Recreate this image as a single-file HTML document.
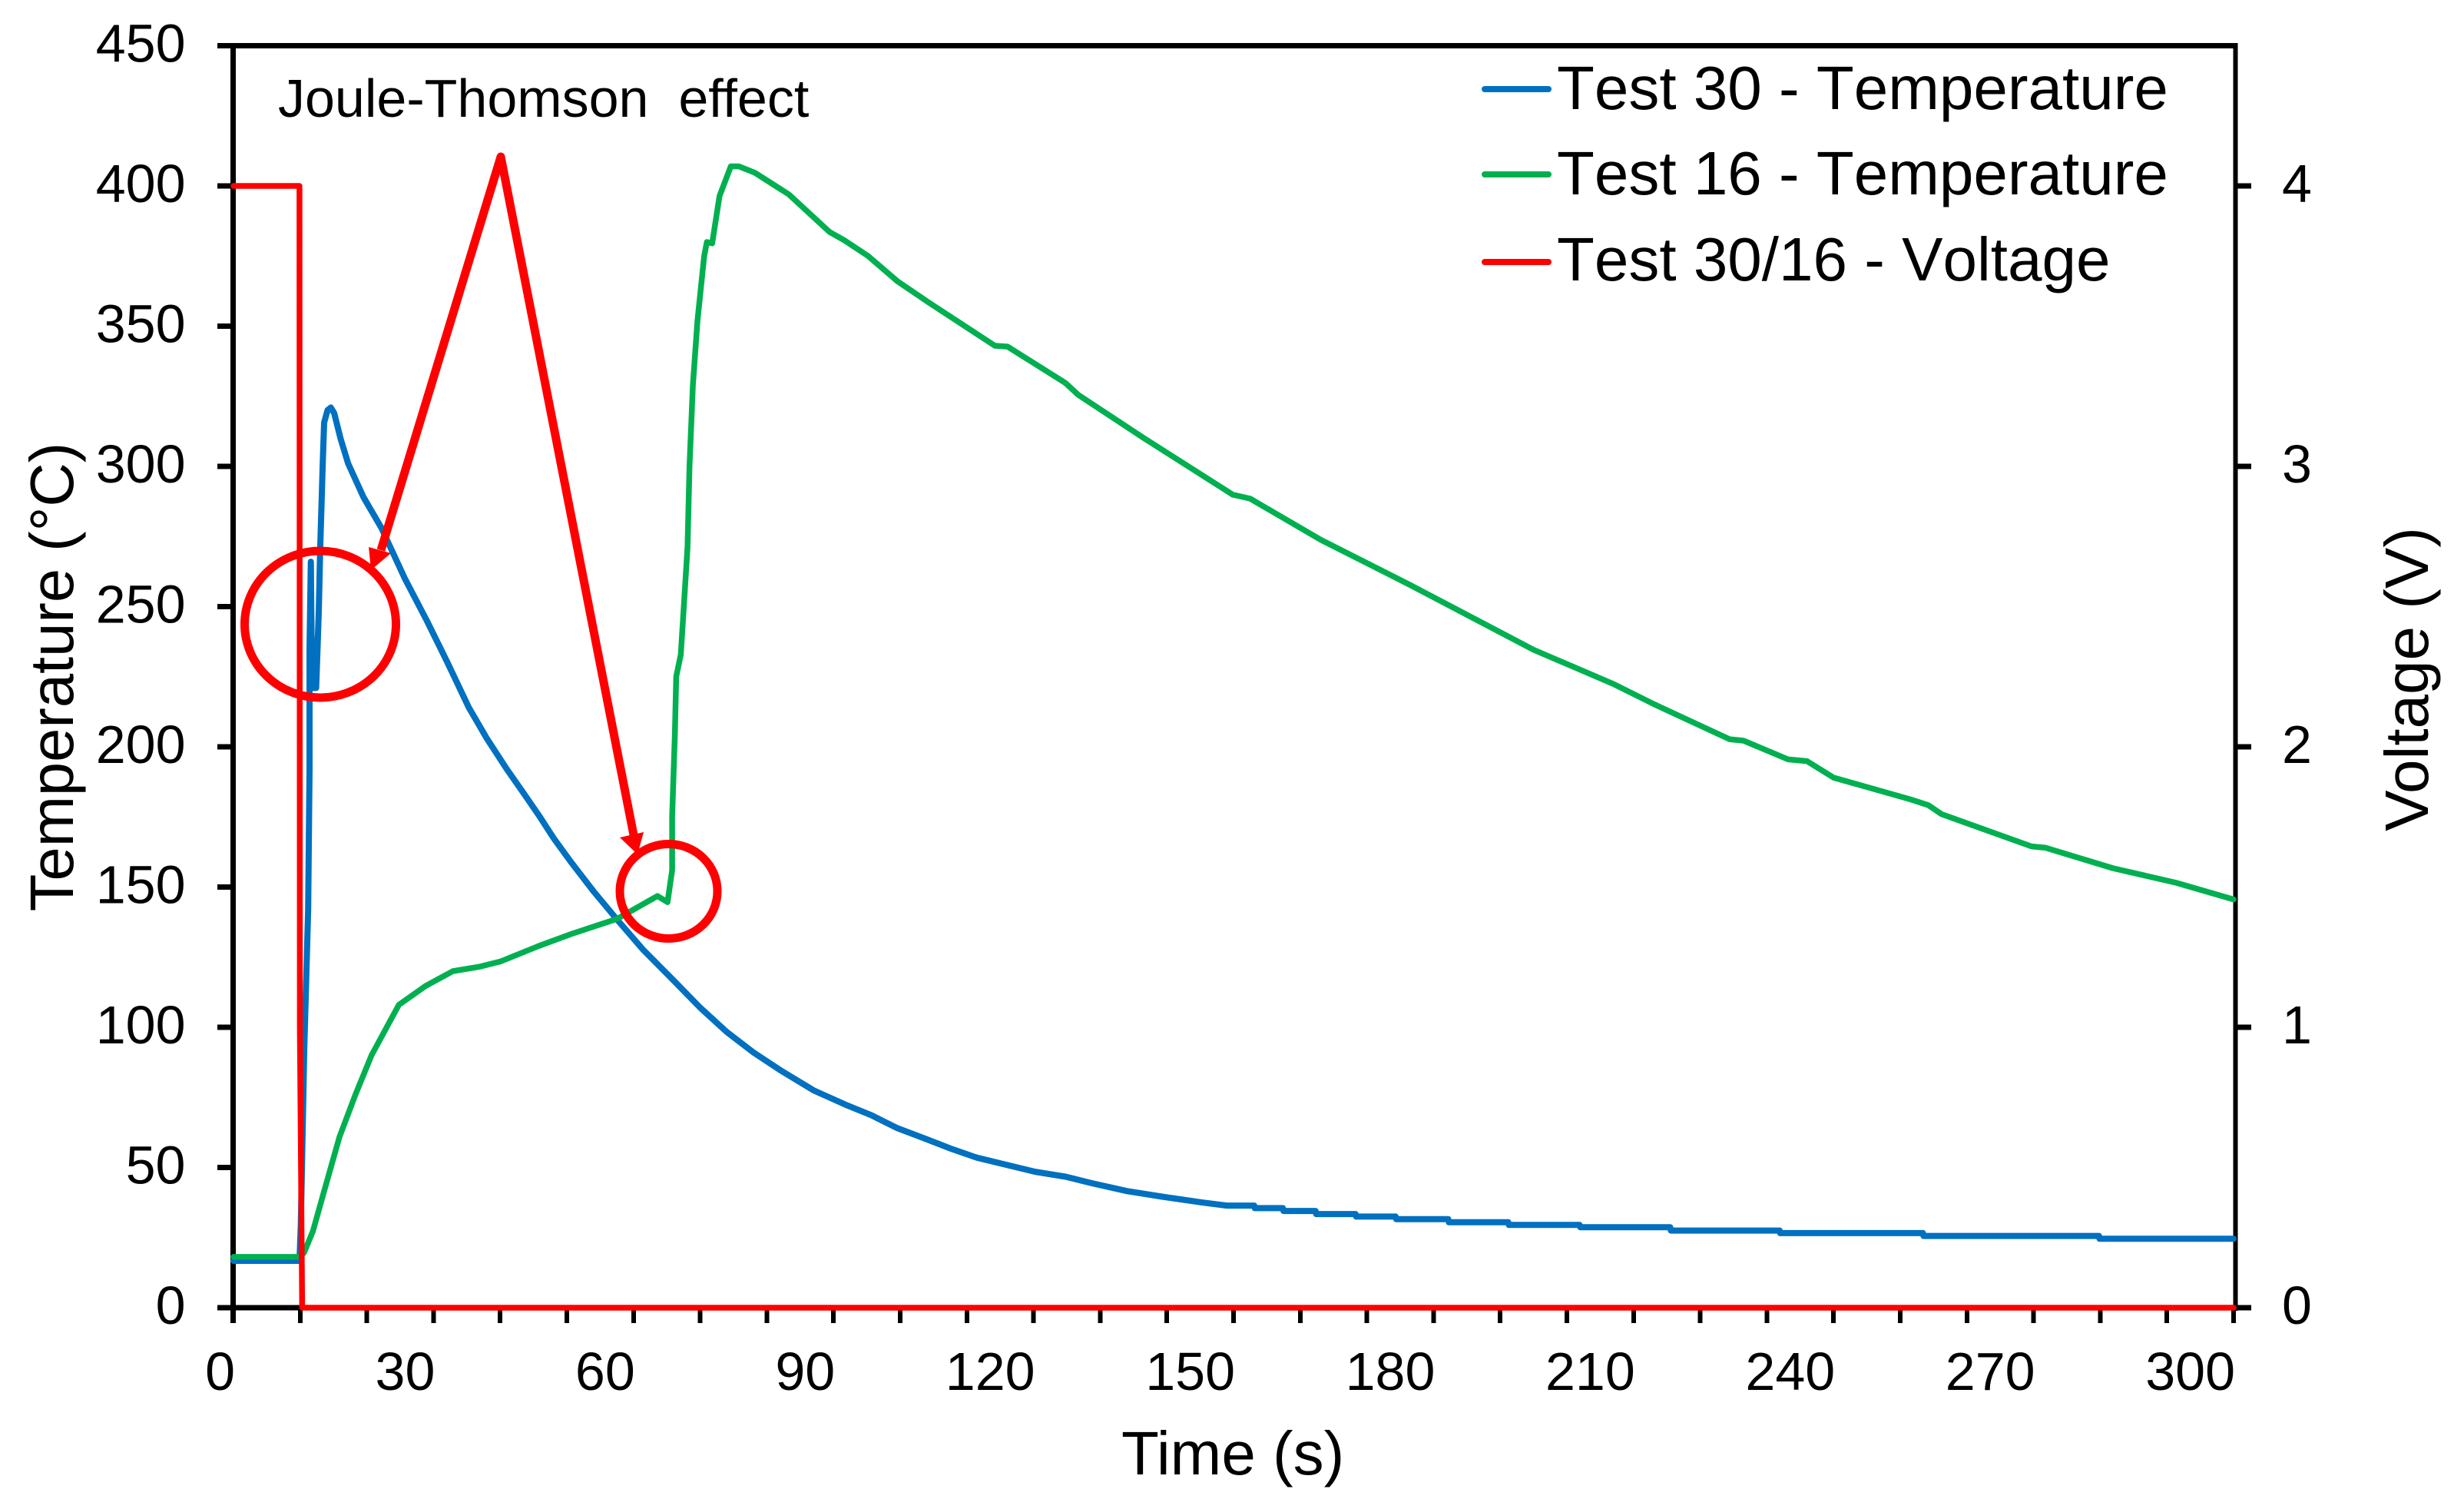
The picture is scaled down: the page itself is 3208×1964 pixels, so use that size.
<!DOCTYPE html>
<html lang="en">
<head>
<meta charset="utf-8">
<title>Temperature and voltage vs time</title>
<style>
html,body{margin:0;padding:0;background:#fff;}
svg{display:block;}
text{font-family:"Liberation Sans",Arial,sans-serif;fill:#000;}
.nokern{font-kerning:none;}
</style>
</head>
<body>
<svg id="chart" xmlns="http://www.w3.org/2000/svg" width="3208" height="1964" viewBox="0 0 3208 1964">
  <rect x="0" y="0" width="3208" height="1964" fill="#ffffff"/>
  <g id="axes"></g>
  <g id="series"></g>
  <text transform="translate(95 881) rotate(-90)" text-anchor="middle" font-size="79.5">Temperature (°C)</text>
  <text transform="translate(3161 884) rotate(-90)" text-anchor="middle" font-size="80">Voltage (V)</text>
  <text x="1460" y="1919" font-size="80">Time (s)</text>
  <text x="362" y="152" font-size="70" style="white-space:pre" xml:space="preserve">Joule-Thomson  effect</text>
  <g>
    <g>
      <line x1="1933" y1="116" x2="2016" y2="116" stroke="#0070C0" stroke-width="8" stroke-linecap="round"/>
      <text class="nokern" x="2027" y="142" font-size="80">Test 30 - Temperature</text>
    </g>
    <g>
      <line x1="1933" y1="227" x2="2016" y2="227" stroke="#00B050" stroke-width="8" stroke-linecap="round"/>
      <text class="nokern" x="2027" y="253" font-size="80">Test 16 - Temperature</text>
    </g>
    <g>
      <line x1="1933" y1="341" x2="2016" y2="341" stroke="#FF0000" stroke-width="8" stroke-linecap="round"/>
      <text class="nokern" x="2027" y="365" font-size="80">Test 30/16 - Voltage</text>
    </g>
  </g>
  <g fill="none" stroke="#FF0000">
    <ellipse cx="417" cy="812.5" rx="98.5" ry="95.5" stroke-width="11"/>
    <ellipse cx="870.5" cy="1160" rx="63.5" ry="61.5" stroke-width="11"/>
    <polyline points="496,716 652,204 826,1092" stroke-width="11" stroke-linejoin="round"/>
    <polygon points="480,712 509,720 483,742" fill="#FF0000" stroke="none"/>
    <polygon points="807,1090 838,1083 830,1112" fill="#FF0000" stroke="none"/>
  </g>
</svg>
<script>
var xTicks = [0,10,20,30,40,50,60,70,80,90,100,110,120,130,140,150,160,170,180,190,200,210,220,230,240,250,260,270,280,290,300];
var xTickLabels = [0,30,60,90,120,150,180,210,240,270,300];
var yTickLabels = [0,50,100,150,200,250,300,350,400,450];
var y2TickLabels = [0,1,2,3,4];

var test30Time = [0,9.9,10.1,10.6,11.2,11.4,11.4,11.6,11.7,12.0,12.4,12.6,12.8,13,13.4,13.6,14.1,14.6,15.1,16.05,17.2,19.5,22.2,25.7,29,32,35.3,38,41,43.5,45.8,48,50.6,54,57.5,61.5,66,70,74,78,82,87,91.7,95.7,99.6,103.6,107.6,111.5,115.5,120.2,124.8,128.7,134,139.3,145.3,149,153.1,153.2,157.4,157.5,162.3,162.4,168.3,168.4,174.3,174.4,182.2,182.3,191.2,191.3,201.9,202,215.5,215.6,231.9,232,253.4,253.5,279.8,279.9,300];
var test30Temp = [16.7,16.7,30,91,142,192,235,266,240,221,221,235,249,270,302,315.6,320,321,319,310,301,289,278,260,245,230.5,214,203,192,183.5,175.6,167.5,159,148.5,138.5,127.5,116.7,107,98.3,91,84.7,77.5,72.5,68.6,64,60.4,56.7,53.5,51.2,48.5,46.7,44.4,41.6,39.6,37.5,36.4,36.4,35.5,35.5,34.5,34.5,33.4,33.4,32.5,32.5,31.6,31.6,30.5,30.5,29.5,29.5,28.7,28.7,27.5,27.5,26.6,26.6,25.6,25.6,24.6,24.6];

var test16Time = [0,10,10.6,11.9,13.5,15.9,18.3,20.7,24.8,28.8,32.9,36.9,40.1,45.8,50.7,57.5,63.6,65.1,65.8,65.8,66.2,66.4,67.1,68.1,68.4,68.9,69.6,70.6,71,71.8,72.9,74.6,75.8,78.2,83.3,89.4,91.7,95.2,99.6,104.3,114.2,116.1,124.8,126.7,136.6,149.9,152.5,163.1,176.4,195,206.9,213,224.4,226.5,233.2,236,240,251.5,254.2,256.2,269.7,271.8,281.9,291.4,300];
var test16Temp = [18.1,18.1,19.7,27.2,40.8,60.9,76,90,108,114.7,120,121.6,123.5,129,133.3,138.6,146.8,144.6,156,175,204,225,233,271,300,329,352,375,380,379.5,396.4,407,407,404.7,397,383.6,380.5,375,366,358.4,343,342.7,329.7,325.5,310,289.9,288.5,273.8,257.8,234.6,222.5,215.3,202.7,202.2,195.5,194.9,189,181.3,179.2,176,164.5,164,156.7,151.5,145.6];

var voltageTime = [0,9.9,9.95,10.3,300];
var voltageValues = [4,4,1,0,0];

var SVG_NS = 'http://www.w3.org/2000/svg';
function xScale(t){ return 304 + t * 8.68; }
function yScale(v){ return 1702 - v * 3.65; }
function y2Scale(v){ return 1702 - v * 365; }

var axes = document.getElementById('axes');
var seriesGroup = document.getElementById('series');

function addLine(x1, y1, x2, y2, w){
  var l = document.createElementNS(SVG_NS, 'line');
  l.setAttribute('x1', x1);
  l.setAttribute('y1', y1);
  l.setAttribute('x2', x2);
  l.setAttribute('y2', y2);
  l.setAttribute('stroke', '#000');
  l.setAttribute('stroke-width', w);
  l.setAttribute('shape-rendering', 'crispEdges');
  axes.appendChild(l);
  return l;
}
function addText(x, y, str, anchor){
  var t = document.createElementNS(SVG_NS, 'text');
  t.setAttribute('x', x);
  t.setAttribute('y', y);
  t.setAttribute('font-size', '70');
  t.setAttribute('text-anchor', anchor);
  t.textContent = str;
  axes.appendChild(t);
  return t;
}

var frameTop = addLine(283, 59.5, 2913, 59.5, 7);


var frameLeft = addLine(303.5, 56, 303.5, 1722, 7);


var frameRight = addLine(2910.5, 56, 2910.5, 1706, 6);


var frameBottom = addLine(283, 1702, 2931, 1702, 7);



xTicks.forEach(function(v){
  var tick = addLine(xScale(v), 1702, xScale(v), 1722, 6);
  
  
});
xTickLabels.forEach(function(v){
  var label = addText(xScale(v) + 2, 1809, String(v), 'end');
  
  
});
yTickLabels.forEach(function(v){
  var tick = addLine(283, yScale(v), 303, yScale(v), 7);
  
  
  var label = addText(241.5, yScale(v) + 21, String(v), 'end');
  
  
});
y2TickLabels.forEach(function(v){
  var tick = addLine(2910, y2Scale(v), 2931, y2Scale(v), 7);
  
  
  var label = addText(2971, y2Scale(v) + 21, String(v), 'start');
  
  
});

function drawSeries(times, values, scale, color, width){
  var pts = times.map(function(t, i){
    return xScale(t).toFixed(1) + ',' + scale(values[i]).toFixed(1);
  }).join(' ');
  var p = document.createElementNS(SVG_NS, 'polyline');
  p.setAttribute('points', pts);
  p.setAttribute('fill', 'none');
  p.setAttribute('stroke', color);
  p.setAttribute('stroke-width', width);
  p.setAttribute('stroke-linejoin', 'round');
  p.setAttribute('stroke-linecap', 'round');
  seriesGroup.appendChild(p);
  return p;
}

var lineTest30 = drawSeries(test30Time, test30Temp, yScale, '#0070C0', 8);


var lineTest16 = drawSeries(test16Time, test16Temp, yScale, '#00B050', 7.5);


var lineVoltage = drawSeries(voltageTime, voltageValues, y2Scale, '#FF0000', 7.5);


</script>
</body>
</html>
